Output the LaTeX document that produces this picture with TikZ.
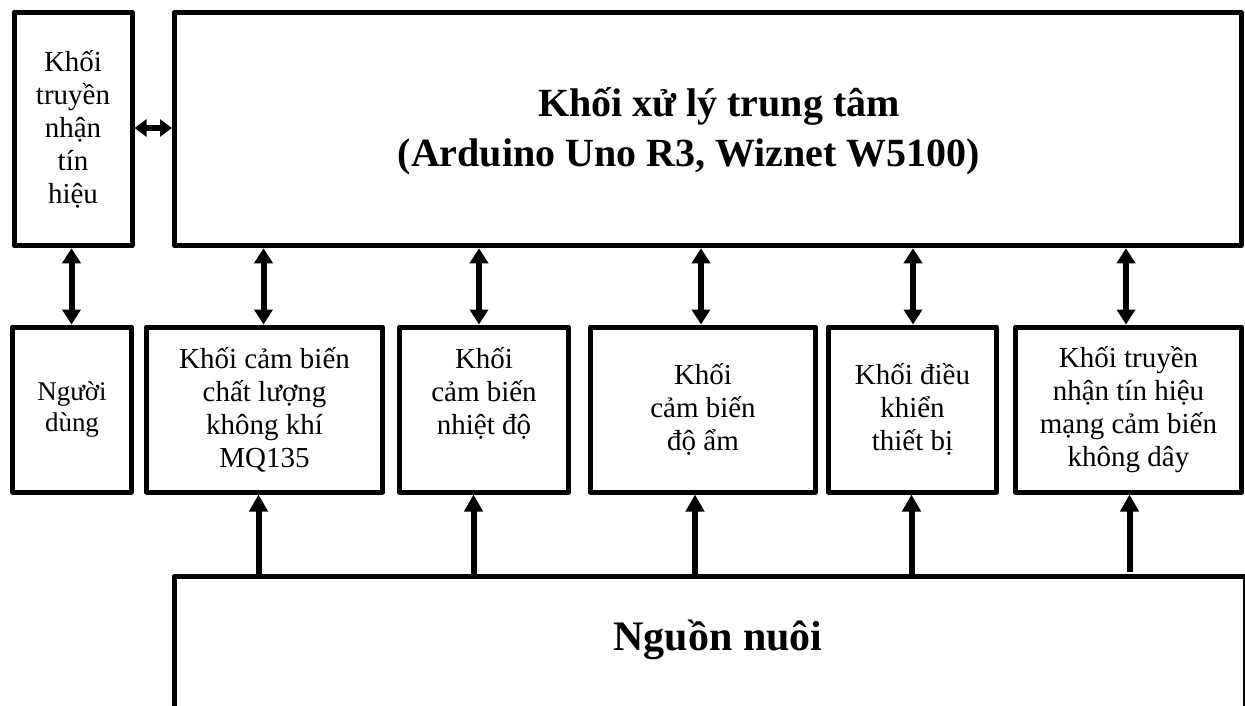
\documentclass[tikz,border=0pt]{standalone}
\usepackage{fontspec}
\setmainfont{Liberation Serif}
\usetikzlibrary{arrows.meta,calc}
\begin{document}
\begin{tikzpicture}[x=1pt,y=-1pt,
  box/.style={draw, line width=5pt, line join=round, inner sep=0pt, outer sep=2.5pt, align=center, font=\fontsize{29}{33}\selectfont},
  txt/.style={inner sep=0pt, align=center, font=\fontsize{29}{33}\selectfont},
  big/.style={font=\bfseries\fontsize{40}{50}\selectfont},
  bigger/.style={font=\bfseries\fontsize{42}{50}\selectfont},
  dbl/.style={line width=6pt, {Triangle[length=15pt,width=18pt]}-{Triangle[length=15pt,width=18pt]}},
  hdbl/.style={line width=6pt, {Triangle[length=12pt,width=17pt]}-{Triangle[length=12pt,width=17pt]}},
  uparrow/.style={line width=6pt, -{Triangle[length=17pt,width=18pt]}},
]
\useasboundingbox (0,0) rectangle (1245,706);

% top row
\node[box, minimum width=118pt, minimum height=233.5pt] (trx) at (73,129) {Khối\\truyền\\nhận\\tín\\hiệu};
\node[box, big, minimum width=1066.5pt, minimum height=233.5pt] (cpu) at (707.75,129) {};
\node[inner sep=0pt, align=center, big] (cputxt) at (689,131) {\hspace*{60pt}Khối xử lý trung tâm\\(Arduino Uno R3, Wiznet W5100)};

% middle row
\node[box, minimum width=118.5pt, minimum height=165pt, font=\fontsize{27}{31}\selectfont] (user) at (72,409.5) {Người\\dùng};
\node[box, minimum width=236pt, minimum height=165pt] (mq) at (264.5,409.5) {Khối cảm biến\\chất lượng\\không khí\\MQ135};
\node[box, minimum width=169pt, minimum height=165pt] (temp) at (484,409.5) {};
\node[txt] (temptxt) at ([yshift=16pt]temp.center) {Khối\\cảm biến\\nhiệt độ};
\node[box, minimum width=225pt, minimum height=165pt] (hum) at (703,409.5) {Khối\\cảm biến\\độ ẩm};
\node[box, minimum width=168pt, minimum height=165pt] (ctl) at (912.5,409.5) {Khối điều\\khiển\\thiết bị};
\node[box, minimum width=226pt, minimum height=165pt] (wsn) at (1128.5,409.5) {Khối truyền\\nhận tín hiệu\\mạng cảm biến\\không dây};

% power
\node[box, bigger, minimum width=1071.5pt, minimum height=131.5pt] (pwr) at (709.75,642.25) {};
\node[inner sep=0pt, bigger] (pwrtxt) at (718,640) {Nguồn nuôi};

% x positions of connectors
\coordinate (xu) at (71.5,0);
\coordinate (xmq) at (263.5,0);
\coordinate (xt) at (479,0);
\coordinate (xh) at (701,0);
\coordinate (xc) at (913,0);
\coordinate (xw) at (1126,0);
\coordinate (pmq) at (258.5,0);
\coordinate (pt) at (473.5,0);
\coordinate (ph) at (695,0);
\coordinate (pc) at (911.5,0);
\coordinate (pw) at (1129.5,0);
\coordinate (yh) at (0,128);
\coordinate (wend) at (1129.5,572);

% connectors
\draw[hdbl] (trx.east |- yh) -- (cpu.west |- yh);
\draw[dbl] (xu |- trx.south) -- (xu |- user.north);
\draw[dbl] (xmq |- cpu.south) -- (xmq |- mq.north);
\draw[dbl] (xt |- cpu.south) -- (xt |- temp.north);
\draw[dbl] (xh |- cpu.south) -- (xh |- hum.north);
\draw[dbl] (xc |- cpu.south) -- (xc |- ctl.north);
\draw[dbl] (xw |- cpu.south) -- (xw |- wsn.north);

\draw[uparrow] (pmq |- pwr.north) -- (pmq |- mq.south);
\draw[uparrow] (pt |- pwr.north) -- (pt |- temp.south);
\draw[uparrow] (ph |- pwr.north) -- (ph |- hum.south);
\draw[uparrow] (pc |- pwr.north) -- (pc |- ctl.south);
\draw[uparrow] (wend) -- (pw |- wsn.south);
\end{tikzpicture}
\end{document}
